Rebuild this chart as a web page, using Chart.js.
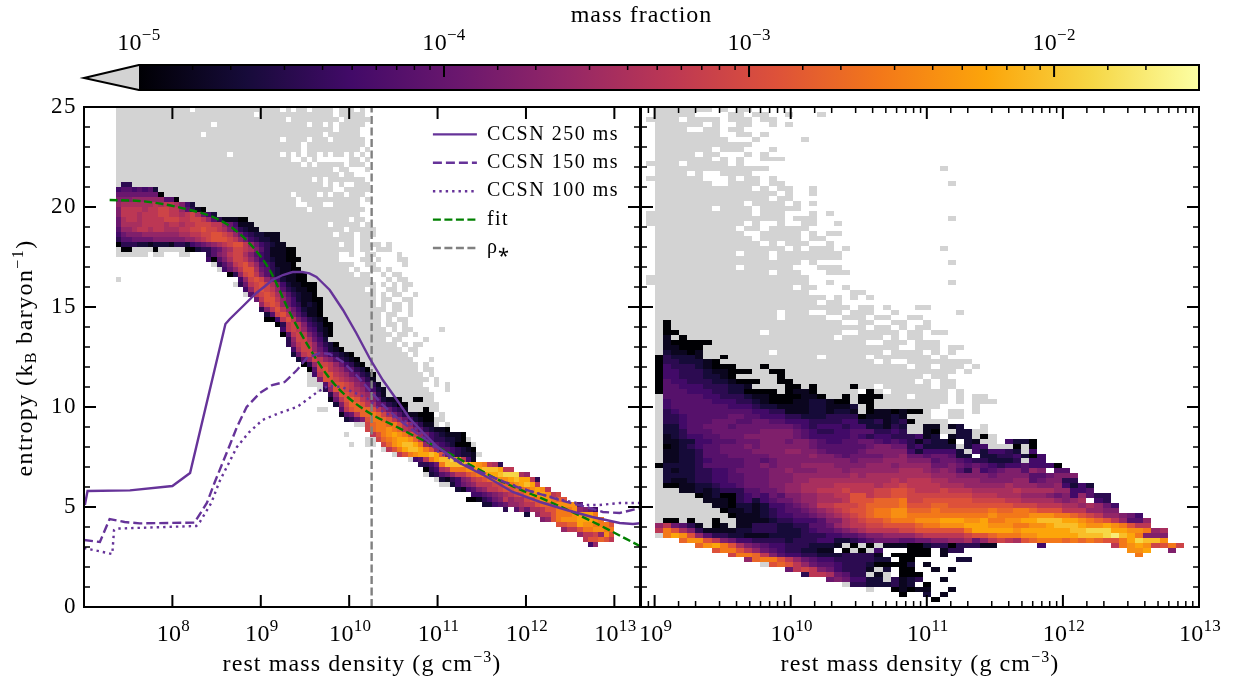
<!DOCTYPE html>
<html>
<head>
<meta charset="utf-8">
<title>mass fraction</title>
<script src="https://cdn.jsdelivr.net/npm/chart.js@4"></script>
<style>
  html, body { margin: 0; background: #fff; }
  #wrap { position: relative; width: 1234px; height: 679px; overflow: hidden; }
  canvas { position: absolute; left: 0; top: 0; }
</style>
</head>
<body>
<div id="wrap">
  <canvas id="barChart" width="1234" height="679"></canvas>
  <canvas id="leftChart" width="1234" height="679"></canvas>
  <canvas id="rightChart" width="1234" height="679"></canvas>
</div>
<script>
// curves: log10 density / entropy
const ccsn250LogRho = [7.01, 7.04, 7.52, 8.0, 8.2, 8.6, 8.65, 8.8, 8.95, 9.05, 9.13, 9.25, 9.36, 9.47, 9.55, 9.63, 9.7, 9.78, 9.93, 10.08, 10.23, 10.38, 10.54, 10.68, 10.83, 11.0, 11.25, 11.56, 11.85, 12.16, 12.46, 12.75, 13.06, 13.21, 13.31];
const ccsn250Entropy = [5.1, 5.8, 5.83, 6.05, 6.7, 14.15, 14.4, 15.05, 15.7, 16.05, 16.35, 16.6, 16.75, 16.75, 16.68, 16.5, 16.2, 15.85, 14.85, 13.7, 12.45, 11.35, 10.35, 9.45, 8.75, 8.0, 7.2, 6.5, 5.75, 5.25, 4.85, 4.5, 4.2, 4.15, 4.2];
const ccsn150LogRho = [7.0, 7.18, 7.29, 7.46, 7.63, 8.25, 8.39, 8.48, 8.65, 8.73, 8.84, 8.99, 9.13, 9.27, 9.41, 9.52, 9.67, 9.78, 9.93, 10.08, 10.23, 10.38, 10.57, 10.76, 10.99, 11.25, 11.56, 11.93, 12.12, 12.38, 12.68, 12.87, 13.06, 13.25, 13.31];
const ccsn150Entropy = [3.35, 3.25, 4.4, 4.25, 4.18, 4.22, 5.2, 6.25, 8.1, 9.0, 10.0, 10.7, 11.1, 11.25, 11.85, 12.45, 12.7, 12.65, 12.25, 11.6, 10.85, 10.1, 9.35, 8.7, 8.0, 7.25, 6.6, 5.95, 5.7, 5.35, 5.0, 4.75, 4.7, 4.9, 4.95];
const ccsn100LogRho = [7.0, 7.32, 7.34, 7.37, 8.27, 8.31, 8.44, 8.53, 8.73, 8.87, 9.02, 9.21, 9.41, 9.55, 9.64, 9.76, 9.92, 10.04, 10.2, 10.35, 10.5, 10.69, 10.91, 11.02, 11.25, 11.7, 12.04, 12.41, 12.68, 12.83, 13.06, 13.31];
const ccsn100Entropy = [2.95, 2.65, 3.85, 3.92, 4.05, 4.25, 5.2, 6.25, 8.0, 8.75, 9.35, 9.7, 10.0, 10.45, 10.75, 11.05, 11.0, 10.75, 10.45, 9.85, 9.5, 9.2, 8.2, 7.7, 7.2, 6.35, 5.8, 5.35, 5.1, 5.1, 5.2, 5.2];
const fitLogRho = [7.29, 7.63, 7.89, 8.2, 8.46, 8.68, 8.91, 9.1, 9.33, 9.55, 9.75, 9.93, 10.23, 10.54, 10.76, 11.0, 11.33, 11.74, 12.3, 12.76, 13.31];
const fitEntropy = [20.35, 20.3, 20.15, 19.85, 19.5, 18.95, 18.0, 16.85, 14.7, 12.95, 11.6, 10.7, 9.7, 9.0, 8.5, 8.0, 7.2, 6.25, 5.2, 4.25, 3.0];
const rhoStarLogRho = 10.254;

const seriesNames = ['CCSN 250 ms', 'CCSN 150 ms', 'CCSN 100 ms', 'fit', 'ρ⁎'];
const entropyTicks = [0, 5, 10, 15, 20, 25];
const leftDensityTicks = [8, 9, 10, 11, 12, 13];
const rightDensityTicks = [9, 10, 11, 12, 13];
const fractionTicks = [-5, -4, -3, -2];

// one char per bin: 0..k = log mass fraction step, x = below the colour range, space = empty
const levelChars = '0123456789abcdefghijk';
const inferno = ['#000004', '#160b39', '#420a68', '#6a176e', '#932667', '#bc3754', '#dd513a', '#f37819', '#fca50a', '#f6d746', '#fcffa4'];

// [row, first column, bins]
const leftGrey = [
[99,0,'xxxxxxxxxxxxxx xxxxxxxxxxxxxxxx x xx xxxx xxx x'],
[98,0,'xxxxxxxxxxxxxxxxxxxxxxxxxx xxxxxxxxxxxxxx xxxxx'],
[97,0,'xxxxxxxxxxxxxxxxxxxxxxxxxxxxxxxx xxxxxxxxx xxxxx'],
[96,0,'xxxxxxxxxxxxxxxxxx xxxxxxxxxxxxxxxxx xx x xxxxx'],
[95,0,'xxxxxxxxxxxxxxxxxxxxxxxxxxxxxxxxxxxxxxxxx xxxx'],
[94,0,'xxxxxxxxxxxxxxxx xxxxxxxxxxxxxxxxxxxxxx xxxxxx'],
[93,0,'xxxxxxxxxxxxxxxxxxxxxxxxxxxxxxx xxxx xxx xxxxxx'],
[92,0,'xxxxxxxxxxxxxxxxxxxxxxxxxxxxxxxxxxx xxxxxxxxxxx'],
[91,0,'xxxxxxxxxxxxxxxxxxxxxxxxxxxxxxxxxxx xxxxxxxxxx x'],
[90,0,'xxxxxxxxxxxxxxxxxxxxx xxxxxxxxx x x xx x xx x x'],
[89,0,'xxxxxxxxxxxxxxxxxxxxxxxxxxxxxxxxx  x x      xx x'],
[88,0,'xxxxxxxxxxxxxxxxxxxxxxxxxxxxxxxxxxx x xxxxx xxx'],
[87,0,'xxxxxxxxxxxxxxxxxxxxxxxxxxxxxxxxxxxxxxxxx xx   x'],
[86,0,'xxxxxxxxxxxxxxxxxxxxxxxxxxxxxxxxxxxxxxxxxx xx'],
[85,0,'xxxxxxxxxxxxxxxxxxxxxxxxxxxxxxxxxxxxx x xxxxxxx'],
[84,0,'xxxxxxxxxxxxxxxxxxxxxxxxxxxxxxxxxxxxxxx x x  xxx'],
[83,0,'xxxxxxxxxxxxxxxxxxxxxxxxxxxxxxxxxxxxxxxxx  xxxxx'],
[82,0,'xxxxxxxxxxxxxxxxxxxxxxxxxxxxxxxxx xxxx x xx xxx'],
[81,0,'xxxxxxxxxxxxxxxxxxxxxxxxxxxxxxxxxx xxxxxxxxxxx x'],
[80,0,'xxxxxxxxxxxxxxxxxxxxxxxxxxxxxxxxxx  xxx  xxxxx'],
[79,0,'xxxxxxxxxxxxxxxxxxxxxxxxxxxxxxxxxxxx xxxxxxxxxx'],
[78,0,'xxxxxxxxxxxxxxxxxxxxxxxxxxxxxxxxxxxxxxxxxxxxxx'],
[77,0,'xxxxxxxxxxxxxxxxxxxxxxxxxxxxxxxxxxxxxxxxxxxx xx'],
[76,0,'xxxxxxxxxxxxxxxxxxxxxxxxxxxxxxxxxxxxxxxx xxxxx x'],
[75,0,'xxxxxxxxxxxxxxxxxxxxxxxxxxxxxxxxxxxxxxxxxxx xxxxx'],
[74,0,'xxxxxxxxxxxxxxxxxxxxxxxxxxxxxxxxxxxxxxxxx xxx xxx'],
[73,0,'xxxxxxxxxxxxxxxxxxxxxxxxxxxxxxxxxxxxxxxxxxxxx xx'],
[72,0,'xxxxxxxxxxxxxxxxxxxxxxxxxxxxxxxxxxxxxxxxxx xx xxxx x'],
[71,0,'xxxxxxxxxxxxxxxxxxxxxxxxxxxxxxxxxxxxxxxxxxxxx xx xxx'],
[70,0,'xxxxxx xx   xx'],[70,18,'xxxxxxxxxxxxxxxxxxxxxxxx  x  xx    x'],
[69,19,'xxxxxxxxxxxxxxxxxxxxxxx    xx x   xx'],
[68,18,'xxxxxxxxxxxxxxxxxxxxxxxxxxx  xx     x'],
[67,19,'xxxxxxxxxxxxxxxxxxxxxxxxx x  xx x'],
[66,21,'xxxxxxxxxxxxxxxxxxxxxxxx xx  x xx'],
[65,0,'x'],[65,23,'xxxxxxxxxxxxxxxxxxxxxxxxx   x xx'],
[64,22,'xxxxxxxxxxxxxxxxxxxxxxxxxxx x x xx'],
[63,24,'xxxxxxxxxxxxxxxxxxxxxxx x  xx x'],
[62,24,'xxxxxxxxxxxxxxxxxxxxxxxxx x xx  x'],
[61,26,'xxxxxxxxxxxxxxxxxxxxxxx xx  xx'],
[60,27,'xxxxxxxxxxxxxxxxxxxxxx x xx x'],
[59,27,'xxxxxxxxxxxxxxxxxxxxxxxx xx x'],
[58,28,'xxxxxxxxxxxxxxxxxxxxxx xx  x'],
[57,28,'xxxxxxxxxxxxxxxxxxxxxx x xx'],
[56,30,'xxxxxxxxxxxxxxxxxxxx xx x'],
[55,31,'xxxxxxxxxxxxxxxxxxxx x xx     x'],
[54,31,'xxxxxxxxxxxxxxxxxxxxx xx x'],
[53,32,'xxxxxxxxxxxxxxxxxxx xx    x'],
[52,32,'xxxxxxxxxxxxxxxxxxxxx x xx'],
[51,33,'xxxxxxxxxxxxxxxxxxxxx xx'],
[50,33,'xxxxxxxxxxxxxxxxxxxxxx x'],
[49,34,'xxxxxxxxxxxxxxxxxxxxxx   x'],
[48,35,'xxxxxxxxxxxxxxxxxxxxxx x'],
[47,36,'xxxxxxxxxxxxxxxxxxxxx xx'],
[46,36,'xxxxxxxxxxxxxxxxxxxxxx x'],
[45,36,'xxxxxxxxxxxxxxxxxxxxxxx x'],
[44,36,'xxxxxxxxxxxxxxxxxxxxxx  x x'],
[43,38,'xxxxxxxxxxxxxxxxxxxxx   x'],
[42,40,'xxxxxxxxxxxxxxxxxxxx'],
[41,40,'xxxxxxxxxxxxxxxxxxxx'],
[40,41,'xxxxxxxxxxxxxxxxxxxx'],
[39,38,'xx'],[39,42,'xxxxxxxxxxxxxxxxxxx'],
[38,42,'xxxxxxxxxxxxxxxxxx x'],
[37,43,'xxxxxxxxxxxxxxxxxxx'],
[36,45,'xxxxxxxxxxxxxxxx x'],
[35,47,'xxxxxxxxxxxxxxx'],
[34,43,'x'],[34,48,'xxxxxxxxxxxxxxxxx'],
[33,47,'xxxxxxxxxxxxxxxxxxxx'],
[32,44,'x'],[32,47,'xx xxxxxxxxxxxxxxxxxx'],
[31,50,'xxxxxxxxxxxxxxxxxx'],
[30,52,'xxxxxxxxxxxxxxxxx'],
[29,55,'xxxxxxxxxxxx'],
[28,57,'xxxx'],[27,58,'x'],[26,58,'x'],[25,60,'x'],[24,61,'xx'],
];
const leftBand = [
[84,1,'33'],[83,0,'45545452'],[82,0,'666666660'],[81,0,'777888888550'],[80,0,'8999999a9aa9742'],
[79,0,'7aaaa9aabbaa85310'],[78,0,'7aaa9aaabbaa9ab9642'],[77,0,'69aa9aaaabbbaabba85311100'],
[76,0,'69999aaaa9aa9aabbbaa864111'],[75,0,'5889aa9aa999aabbcbba9753211'],[74,0,'46777888888899aabbccba864322111'],
[73,0,'3556666777777889abcccba86432211'],[72,0,'03332212221332456789abcca8643211'],
[71,1,'00'],[71,7,'0'],[71,13,'002335689bba975311100'],[70,17,'3578abb9754311100'],[69,17,'40579bba8643211000'],
[68,19,'357abca85431110'],[67,20,'468acc965321100'],[66,21,'038bca753211100'],[65,23,'48bcb86421100'],
[64,23,'36abcb974211000'],[63,24,'48bcba85321100'],[62,25,'5abcb97532110'],[61,26,'6acca86421100'],
[60,27,'8bcb86431210'],[59,27,'37aca8642110'],[58,28,'25bca753110'],[57,28,'004aca753210'],[56,30,'03aba743200'],
[55,31,'4aba854210'],[54,31,'05aba75310'],[53,32,'38bb9642'],[52,32,'37aba85320'],[51,33,'49bb864210'],
[50,33,'26aba7643210'],[49,34,'258ba8753210'],[48,35,'038bba864310'],[47,36,'05bca9865320'],[46,37,'4acca9865320'],
[45,38,'7ccba987531'],[44,39,'5accba87531'],[43,39,'38ccba986421'],[42,40,'38ccba98731'],[41,40,'16acdca9752110'],[41,56,'00'],
[40,41,'27bddca9653200'],[39,42,'5acdddca86431'],[39,58,'0'],[38,42,'156addedb975311'],[38,57,'000'],
[37,43,'2357ceedca864210'],[37,59,'0'],[36,47,'bdeedeca85311'],[35,47,'bdeefeda97532110'],[34,48,'acefgfecb864321110'],
[33,49,'bdefggfda54332210'],[32,50,'bdfghhge865432000'],[31,51,'aceghhgec85543210'],[30,53,'acefgghgc643221'],
[29,56,'45aeghhiga41'],[28,57,'3346ehhhhhgfea93'],[27,58,'0349aeeeffghhhgaa'],[26,59,'23568aacdefgghiii98'],
[25,61,'213478abcdeffghgga3'],[24,63,'24678aaabbdefghga'],[23,64,'214578aabccddefgfa'],[22,67,'4456789abceffgfab'],
[21,66,'0013467a899bceffedc'],[20,69,'22456889aacddeffff5'],[19,73,'3'],[19,75,'586'],[19,78,'99acceeef8764'],
[18,77,'2'],[18,79,'8aaceeefggge'],[17,80,'78cefffgggfe'],[16,83,'ccddgffeeec'],[15,84,'8aaceeffee'],
[14,87,'8aab8fc'],[13,88,'accdca'],[12,89,'48'],
];
const rightGrey = [
[100,1,'xxxxxxx x xx'],[99,1,'xxxxx    xx xx  x   x'],[98,0,'xxxx xxxx xxx xx'],[97,1,'xxxxxx x  xx  x x'],
[96,1,'xxxx  xx xx'],[95,1,'xxxxxxxx  xx x'],[94,1,'xxxxxxxxx   x     x'],[93,1,'xxxxxxxxxxxx'],
[92,1,'xxxxxxx xxx   x'],[91,1,'xxxxx xx   x x'],[90,1,'xxxxxxx x x  xxx'],[89,0,'xxxx xxxxx x'],
[88,1,'xxxxxxxxxxxxxx'],[88,36,'x'],[87,1,'xxxx x  xxxx'],[86,0,'xxxxxxx   x xx x'],[85,1,'xxxxxxx  xxxx xx'],[85,37,'x'],
[84,1,'xxxxxxxxxxxx x xx  x'],[83,1,'xxxxxxxxxxxxxxx x  x'],[82,1,'xxxxxxxxxxxxxx xx'],[81,1,'xxxxxxxxxxx xxxx x x'],
[80,1,'xxxxxxx xxxx xxxxx'],[79,0,'xxxxxxxxxxxxx xxx   x x'],[78,0,'xxxxxxxxxxxxxxxxx xxx'],[78,37,'x'],
[77,0,'xxxxxxxxxxxx x  x  xx  x'],[76,1,'xxxxxxxxxx xx xxxxx'],[75,1,'xxxxxxxxxxx  xxxxx x xx'],[74,1,'xxxxxxxxxxxx xxxxx xx'],
[73,1,'xxxxxxxxxxxxx x xxx  x'],[72,1,'xxxxxxxxxxxxxxxx x xxx x'],[72,36,'x'],[71,1,'xxxxxxxxxx xxx xxxxxxxx'],
[70,1,'xxxxxxxxxxxxxx xxxxxxxx'],[69,1,'xxxxxxxxxxxxxxxxxx x'],[69,37,'x'],[68,1,'xxxxxxxxxx xxxxxx   xxx'],
[67,1,'xxxxxxxxxxxxxx xxx   xxx'],[66,0,'xxxxxxxxxxxxxxxxxxxx'],[65,0,'xxxxxxxxxxxxxxxxxxxx  x'],[65,37,'x'],
[64,1,'xxxxxxxxxxxxxxxxx xx   x'],[63,1,'xxxxxxxxxxxxxxxxxxx     xx'],[62,1,'xxxxxxxxxxxxxxxxxxxxx x x x'],
[61,1,'xxxxxxxxxxxxxxxxxxxx xx'],[60,1,'xxxxxxxxxxxxxxxxxxxxxxxx xx x   xx'],[59,1,'xxxxxxxxxxxxxxx xxx  xx xxx  x'],[59,38,'x'],
[58,1,'xxxxxxxxxxxxxxx xxxxx  xxx xx  xx'],[57,1,'xxxxxxxxxxxxxxxxxxxxxxx  xx  xx  x'],[56,1,'xxxxxxxxxxxxxxxxxxxxxxxxxx xx x xx'],
[55,1,'xxxxxxxxxxxxx xxxxxxxxx  xxxxx xx xx'],[54,1,'xxxxxxxxxxxxxxxxxxxxxx xxxxx x xx'],[53,1,'xxxxxxxxxxxxxxxxxxxxxxxxxx  xxx xxx'],
[52,1,'xxxxxxxxxxxxxxxxxxxxxxxxxxxxxx  xxx xx'],[51,1,'xxxxxxxxxxxxxx xxxxxxxxxxxxx xxxx x x'],[50,1,'xxxxxxxxxxxxxxxxxxxx xxxxx xxxxxxx x'],
[49,1,'xxxxxxxxxxxxxxxxxxxxxxxxxxx x  xxxxxxxx'],[48,1,'xxxxxxxxxxxxxxxxxxxxxxxxxxxxxxx xx xxx x'],[47,1,'xxxxxxxxxxxxxxxxxxxxxxxxxxxxxxxxxxxxx x'],
[46,1,'xxxxxxxxxxxxxxxxxxxxxxxxxxxxxxxxx xx'],[45,1,'xxxxxxxxxxxxxxxxxxxxxxxxxxxxxxxx x xx'],[44,1,'xxxxxxxxxxxxxxxxxxxxxxxxxxx xxxxxx xx'],
[43,1,'xxxxxxxxxxxxxxxxxxxxxxxxx xx xxxxxxx x'],[42,1,'x'],[42,21,'xxxxxxxxxxx xxxx x xx'],[41,1,'x'],[41,25,'x xxxxxxxxxx x xxx'],
[40,1,'x'],[40,26,'xxxxxxxxxx'],[40,40,'x'],[39,1,'x'],[39,26,'x'],[39,31,'xxxx'],[39,37,'xx'],[39,40,'x'],[38,1,'x'],[38,32,'xxx'],[38,37,'xx'],
[37,1,'x'],[37,33,'xxxx'],[36,1,'x'],[36,41,'x'],[35,1,'x'],[34,1,'x'],[33,1,'x'],[32,1,'x'],[31,1,'x'],[30,1,'x'],[29,1,'x'],
[27,1,'x'],[26,1,'x'],[25,1,'xx'],[24,1,'xxx'],[23,1,'xxx'],[22,1,'xxxxx'],[21,1,'xxxxxx'],[20,1,'xxxxxxx'],[19,1,'xxxxxxxx'],[18,1,'xxxxxxxxx'],
[17,1,'xxxxxxxxxx'],[16,7,'x'],[16,10,'x'],[14,1,'x'],[12,24,'x'],[12,26,'x'],[12,28,'x'],[11,25,'x'],[11,27,'x'],[9,29,'x'],[8,14,'x'],[7,28,'x'],[6,27,'x'],[6,29,'x'],[5,29,'x'],[4,24,'x'],[3,27,'x'],
];
const rightBand = [
[57,2,'0'],[56,2,'0'],[55,2,'00'],[54,2,'1 0'],[53,2,'100000'],[52,2,'11000'],[51,2,'21101'],[50,1,'032221'],[50,9,'0'],
[49,1,'03322210'],[48,1,'0433321000'],[48,14,'0'],[47,1,'044333211000'],[47,15,'00'],[46,1,'0443332210'],[46,16,'0'],
[45,1,'0544333221000'],[45,16,'00'],[44,1,'055444333221'],[44,17,'00'],[44,20,'0'],[44,25,'0'],
[43,1,'055544433220000'],[43,17,'0110'],[43,27,'0'],[42,2,'55555443332110000110'],[42,24,'0'],[42,26,'000'],
[41,2,'45555544433210001122100'],[41,26,'00'],[40,2,'455555554443221111221112'],[40,27,'0'],
[39,2,'345555555554433111221221'],[39,27,'011010'],[39,33,'0'],[38,2,'334555556655444332223333011121'],
[37,2,'3345556665566554443333442231232'],[36,2,'224556665666666654344434422132'],[35,2,'223555666666777765433445553343'],
[34,2,'123445566677777765444445434433'],[33,2,'112244555666777677654455665454'],[32,2,'012345566676777777655555567766'],
[31,2,'112235566667777887765555677777'],[30,2,'112235556666677777877656666778'],[29,2,'112234555566567777777776777888'],
[28,1,'0222235555566767778888777788878'],[27,2,'212233445666677877788878888889'],[26,2,'222233445566677788888889899999'],
[25,2,'2112334455666777889999999999a9'],[24,2,'001122344566677889999aaaaa9aab'],[23,4,'11212333556678899aaabaaabbcc'],
[22,6,'01200345465778899aaccabbcc'],[21,7,'11103424566788999acccddde'],[20,8,'1102212445678aabbbcddddee'],
[19,9,'01121234556789abccdeeff'],[18,10,'01112344556789abcdeeff'],[17,2,'00'],[17,5,'0'],[17,8,'0'],[17,11,'11112334445779abccdee'],
[16,1,'8a6531'],[16,8,'01'],[16,11,'11333223355689aabbccc'],[15,1,'aec97311112233322234556789aaaab'],
[14,2,'egfc85332211122223334455677888'],[13,4,'dffca76443333233344223456665'],[12,6,'dfgec9765443332221'],[12,25,'0'],[12,27,'0'],[12,29,'111'],
[11,8,'ceeca8654332211'],[11,24,'0'],[11,26,'0'],[11,28,'4'],[10,10,'beeda75443322233331'],[10,30,'000'],
[9,12,'8deeca865443333322'],[9,31,'01'],[8,15,'cdca8655433320000'],[7,17,'6aba7643331'],[7,29,'2'],[7,31,'00'],
[6,19,'3aa96533'],[6,28,'1'],[6,31,'00'],[5,22,'6764422'],[5,30,'311'],[4,25,'33222311'],[3,30,'0101'],[2,31,'0'],
// dense part, right half
[37,32,'0'],[36,32,'xx11x12'],[35,32,'xx10xx22xx'],[34,32,'3412 122x0x'],[33,32,'313220 21xx 4220'],[32,32,'342222x244xxx0x0'],
[31,32,'4244442x424432x4'],[30,32,'66566522 22334204'],[29,32,'77756654332223x44'],[28,32,'8886676565434454440'],
[27,32,'99878753745677587 55'],[26,32,'999888777767777556777'],[25,32,'aaa998888777788567733'],
[24,32,'aaaa9998888898887784242'],[23,32,'baaabaaa99999a999988445'],[22,32,'bbbbbbbbaaa99988876748533'],
[21,32,'bbccccccbbbbaa99998789 43'],[20,32,'cccddccccccccbbbaaa9989864'],[19,32,'dddeddddddeddeedcccaaa8877'],
[18,32,'eeeeeeeeeefeeeefffeedcba88764'],[17,32,'efffgggffgeeffgghhhggfedca8558'],[16,32,'cdeefffgggfffeeffghhhgffgfecaa'],
[15,32,'bccccccegggggfgggggghhiiiggffe89'],[14,32,'89aaaaabccdeeeffggggghhhijhge777'],[13,32,'5667788968aba9cdeeedededccegihhf'],
[12,32,'00233033311'],[12,48,'4'],[12,57,'aefgfbceb'],[11,32,'000'],[11,36,'133'],[11,59,'ffg'],[11,64,'7'],[10,32,'000'],[10,36,'1'],[10,60,'e'],
[9,32,'0'],[9,38,'22'],[8,32,'2'],[8,34,'1'],[7,35,'1'],[7,37,'1'],[6,33,'0'],[5,32,'23'],[5,36,'1'],[4,32,'2'],[4,34,'0'],[3,33,'11'],[3,37,'1'],[2,34,'2'],[2,36,'1'],[1,35,'0'],
];

const serif = '"Liberation Serif", "Times New Roman", serif';
const isDecade = v => Math.abs(Math.log10(v) - Math.round(Math.log10(v))) < 1e-6;
const toXY = (xs, ys) => xs.map((x, i) => ({ x: Math.pow(10, x), y: ys[i] }));

function hexToRgb(h) { return [1, 3, 5].map(i => parseInt(h.slice(i, i + 2), 16)); }
function levelColor(ch) {
  const t = levelChars.indexOf(ch) / 20 * 10;
  const i = Math.min(9, Math.floor(t));
  const a = hexToRgb(inferno[i]), b = hexToRgb(inferno[i + 1]);
  const c = a.map((v, n) => Math.round(v + (b[n] - v) * (t - i)));
  return 'rgb(' + c.join(',') + ')';
}

// text with raised or lowered pieces: [text, size, dy], centred on cx, cy
function mixedText(ctx, parts, cx, cy, spacing, angle) {
  ctx.save();
  ctx.translate(cx, cy);
  if (angle) ctx.rotate(angle);
  ctx.fillStyle = '#000';
  ctx.textBaseline = 'alphabetic';
  ctx.textAlign = 'left';
  ctx.letterSpacing = spacing + 'px';
  let w = 0;
  parts.forEach(p => { ctx.font = p[1] + 'px ' + serif; w += ctx.measureText(p[0]).width; });
  let px = -w / 2;
  parts.forEach(p => {
    ctx.font = p[1] + 'px ' + serif;
    ctx.fillText(p[0], px, p[2]);
    px += ctx.measureText(p[0]).width;
  });
  ctx.restore();
}
const powerParts = e => [['10', 24, 0], [String(e).replace('-', '−'), 17, -10]];

// draws the 2d histogram through the chart scales, below the curves
function histogram(grey, band, logRhoStart, logRhoStep, entropyStep) {
  return {
    id: 'histogram',
    beforeDatasetsDraw(chart) {
      const { ctx, chartArea: a, scales: { x, y } } = chart;
      ctx.save();
      ctx.beginPath();
      ctx.rect(a.left, a.top, a.right - a.left, a.bottom - a.top);
      ctx.clip();
      const cell = (row, col, fill) => {
        const x0 = Math.round(x.getPixelForValue(Math.pow(10, logRhoStart + col * logRhoStep)));
        const x1 = Math.round(x.getPixelForValue(Math.pow(10, logRhoStart + (col + 1) * logRhoStep)));
        const y0 = Math.round(y.getPixelForValue((row + 1) * entropyStep));
        const y1 = Math.round(y.getPixelForValue(row * entropyStep));
        ctx.fillStyle = fill;
        ctx.fillRect(x0, y0, x1 - x0, y1 - y0);
      };
      [grey, band].forEach(rows => rows.forEach(([row, first, bins]) => {
        for (let i = 0; i < bins.length; i++) {
          if (bins[i] === ' ') continue;
          cell(row, first + i, bins[i] === 'x' ? '#d3d3d3' : levelColor(bins[i]));
        }
      }));
      ctx.restore();
    }
  };
}

// inward ticks on every side, the frame and the decade labels under it
function frame(showXMinor, decades) {
  return {
    id: 'frame',
    afterDatasetsDraw(chart) {
      const { ctx, chartArea: a, scales: { x, y } } = chart;
      ctx.save();
      ctx.strokeStyle = '#000';
      x.ticks.forEach(t => {
        const major = isDecade(t.value);
        if (!major && !showXMinor) return;
        const px = x.getPixelForValue(t.value);
        if (px <= a.left + 1 || px >= a.right - 1) return;
        ctx.lineWidth = major ? 2 : 1.5;
        const len = major ? 12 : 6;
        ctx.beginPath();
        ctx.moveTo(px, a.top); ctx.lineTo(px, a.top + len);
        ctx.moveTo(px, a.bottom); ctx.lineTo(px, a.bottom - len);
        ctx.stroke();
      });
      y.ticks.forEach(t => {
        const major = t.value % 5 === 0;
        const py = y.getPixelForValue(t.value);
        if (py <= a.top + 1 || py >= a.bottom - 1) return;
        ctx.lineWidth = major ? 2 : 1.5;
        const len = major ? 12 : 6;
        ctx.beginPath();
        ctx.moveTo(a.left, py); ctx.lineTo(a.left + len, py);
        ctx.moveTo(a.right, py); ctx.lineTo(a.right - len, py);
        ctx.stroke();
      });
      ctx.lineWidth = 2;
      ctx.strokeRect(a.left, a.top, a.right - a.left, a.bottom - a.top);
      ctx.restore();
      x.ticks.forEach(t => {
        if (!isDecade(t.value)) return;
        const e = Math.round(Math.log10(t.value));
        if (decades.includes(e)) mixedText(ctx, powerParts(e), x.getPixelForValue(t.value) + 1, 641, 0.3);
      });
      const mid = (a.left + a.right) / 2;
      mixedText(ctx, [['rest mass density (g cm', 24, 0], ['−3', 16, -9], [')', 24, 0]], mid, 671, 1.1);
    }
  };
}

const spacing = px => ({ id: 'spacing', beforeDraw(chart) { chart.ctx.letterSpacing = px + 'px'; } });

// legend sits inside the axes, upper right
const moveLegend = {
  id: 'moveLegend',
  beforeDraw(chart) {
    const l = chart.legend;
    const w = l.right - l.left, h = l.bottom - l.top;
    l.left = 424.5; l.top = 116; l.right = 424.5 + w; l.bottom = 116 + h;
  }
};

const entropyTitle = {
  id: 'entropyTitle',
  afterDraw(chart) {
    const parts = [['entropy (k', 24, 0], ['B', 16, 4], [' baryon', 24, 0], ['−1', 16, -9], [')', 24, 0]];
    mixedText(chart.ctx, parts, 32, 358, 1.4, -Math.PI / 2);
  }
};

const colourBar = {
  id: 'colourBar',
  beforeDatasetsDraw(chart) {
    const { ctx, chartArea: a, scales: { x } } = chart;
    const x0 = x.getPixelForValue(1e-5);
    const g = ctx.createLinearGradient(x0, 0, a.right, 0);
    inferno.forEach((c, i) => g.addColorStop(i / (inferno.length - 1), c));
    ctx.save();
    ctx.fillStyle = g;
    ctx.fillRect(x0, a.top, a.right - x0, a.bottom - a.top);
    ctx.beginPath();
    ctx.moveTo(x0, a.top);
    ctx.lineTo(a.left, (a.top + a.bottom) / 2 + 0.5);
    ctx.lineTo(x0, a.bottom);
    ctx.closePath();
    ctx.fillStyle = '#d3d3d3';
    ctx.fill();
    ctx.beginPath();
    ctx.moveTo(x0, a.top);
    ctx.lineTo(a.left, (a.top + a.bottom) / 2 + 0.5);
    ctx.lineTo(x0, a.bottom);
    ctx.lineTo(a.right, a.bottom);
    ctx.lineTo(a.right, a.top);
    ctx.closePath();
    ctx.strokeStyle = '#000';
    ctx.lineWidth = 2;
    ctx.stroke();
    x.ticks.forEach(t => {
      if (t.value < 1e-5 * 1.0001) return;
      const px = x.getPixelForValue(t.value);
      const major = isDecade(t.value);
      ctx.lineWidth = major ? 2 : 1.5;
      ctx.beginPath();
      ctx.moveTo(px, a.top);
      ctx.lineTo(px, a.top + (major ? 12 : 5));
      ctx.stroke();
    });
    ctx.restore();
    x.ticks.forEach(t => {
      if (!isDecade(t.value)) return;
      const e = Math.round(Math.log10(t.value));
      if (fractionTicks.includes(e)) mixedText(ctx, powerParts(e), x.getPixelForValue(t.value), 50, 0.3);
    });
  }
};

function densityAxis(logMin, logMax) {
  return {
    type: 'logarithmic',
    position: 'bottom',
    min: Math.pow(10, logMin),
    max: Math.pow(10, logMax),
    grid: { display: false },
    border: { display: false },
    afterFit(s) { s.height = 72; },
    ticks: { display: false, autoSkip: false }
  };
}

const lineStyle = (color, dash, smooth) => ({ borderColor: color, backgroundColor: color, borderWidth: 2.4, borderDash: dash, pointRadius: 0, showLine: true, fill: false, cubicInterpolationMode: smooth ? 'monotone' : 'default' });

new Chart(document.getElementById('leftChart'), {
  type: 'scatter',
  data: {
    datasets: [
      { label: seriesNames[0], data: toXY(ccsn250LogRho, ccsn250Entropy), ...lineStyle('#663399', []) },
      { label: seriesNames[1], data: toXY(ccsn150LogRho, ccsn150Entropy), ...lineStyle('#663399', [9, 4]) },
      { label: seriesNames[2], data: toXY(ccsn100LogRho, ccsn100Entropy), ...lineStyle('#663399', [2.4, 4]) },
      { label: seriesNames[3], data: toXY(fitLogRho, fitEntropy), ...lineStyle('#008000', [8, 3.5], true) },
      { label: seriesNames[4], data: toXY([rhoStarLogRho, rhoStarLogRho], [0, 25]), ...lineStyle('#808080', [8, 3.5]) },
    ]
  },
  options: {
    responsive: false, animation: false, events: [],
    layout: { padding: { left: 0, top: 107, right: 594, bottom: 0 } },
    scales: {
      x: densityAxis(7, 13.29),
      y: {
        min: 0, max: 25,
        grid: { display: false, drawTicks: false },
        border: { display: false },
        afterFit(s) { s.width = 84; },
        ticks: {
          stepSize: 1, autoSkip: false, padding: 7, color: '#000',
          font: { family: serif, size: 23 },
          callback: v => entropyTicks.includes(v) ? String(v) : ''
        }
      }
    },
    plugins: {
      title: { display: false },
      tooltip: { enabled: false },
      legend: {
        position: 'chartArea', align: 'start',
        labels: {
          usePointStyle: true, pointStyle: 'line', pointStyleWidth: 44, padding: 8.4, color: '#000',
          font: { family: serif, size: 20 },
          // point style legends lose the dash of the dataset, put it back
          generateLabels(chart) {
            const items = Chart.defaults.plugins.legend.labels.generateLabels(chart);
            items.forEach((item, i) => {
              const ds = chart.data.datasets[i];
              item.lineDash = ds.borderDash;
              item.strokeStyle = ds.borderColor;
              item.lineWidth = ds.borderWidth;
            });
            return items;
          }
        }
      }
    }
  },
  plugins: [spacing(1.5), moveLegend, histogram(leftGrey, leftBand, 7.36, 0.06, 0.25), frame(false, leftDensityTicks), entropyTitle]
});

new Chart(document.getElementById('rightChart'), {
  type: 'scatter',
  data: { datasets: [] },
  options: {
    responsive: false, animation: false, events: [],
    layout: { padding: { left: 641, top: 107, right: 35, bottom: 0 } },
    scales: {
      x: densityAxis(8.9, 13),
      y: { min: 0, max: 25, display: true, grid: { display: false }, border: { display: false }, ticks: { stepSize: 1, display: false, autoSkip: false }, afterFit(s) { s.width = 0; } }
    },
    plugins: { legend: { display: false }, tooltip: { enabled: false } }
  },
  plugins: [histogram(rightGrey, rightBand, 8.94, 0.05984, 25 / 101), frame(true, rightDensityTicks)]
});

new Chart(document.getElementById('barChart'), {
  type: 'scatter',
  data: { datasets: [] },
  options: {
    responsive: false, animation: false, events: [],
    layout: { padding: { left: 84, top: 0, right: 35, bottom: 589 } },
    scales: {
      x: {
        type: 'logarithmic', position: 'top',
        min: Math.pow(10, -5.18), max: Math.pow(10, -1.525),
        grid: { display: false }, border: { display: false },
        afterFit(s) { s.height = 65; },
        ticks: { display: false, autoSkip: false },
        title: { display: true, text: 'mass fraction', color: '#000', font: { family: serif, size: 24 }, padding: { top: 1, bottom: 0 } }
      },
      y: { display: false, min: 0, max: 1 }
    },
    plugins: { legend: { display: false }, tooltip: { enabled: false } }
  },
  plugins: [spacing(1), colourBar]
});
</script>
</body>
</html>
